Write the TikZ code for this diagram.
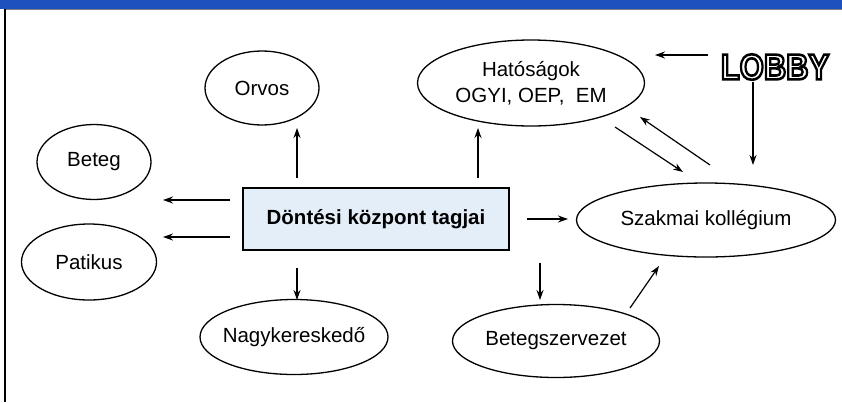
\documentclass[tikz,border=0pt]{standalone}
\usepackage{fontspec}
\setmainfont{Liberation Sans}
\usetikzlibrary{shapes.geometric,arrows.meta}
\definecolor{barblue}{RGB}{30,80,190}
\definecolor{boxblue}{RGB}{228,238,248}
\newcommand{\zb}[1]{\makebox[0pt]{#1}}
\tikzset{
  oval/.style={ellipse,draw,line width=1.3pt,inner sep=0pt,font=\fontsize{20.5}{26}\selectfont,align=center},
  arr/.style={line width=1.2pt,-{Stealth[length=10pt,width=7pt]}},
}
\begin{document}
\begin{tikzpicture}[x=1pt,y=-1pt]
\useasboundingbox (0,0) rectangle (842,402);
\fill[white] (0,0) rectangle (842,402);
\fill[barblue] (0,0) rectangle (842,8.5);
\draw[line width=1pt,gray] (4,9.5) -- (842,9.5);
\draw[line width=2pt] (5,9) -- (5,402);

\node[oval,minimum width=114pt,minimum height=74pt] (orvos) at (262,88) {\zb{Orvos}};
\node[oval,minimum width=227pt,minimum height=86pt] (hat) at (531,83) {\zb{Hatóságok}\\\zb{OGYI, OEP,\ \ EM}};
\node[oval,minimum width=114pt,minimum height=75pt] (beteg) at (94,162) {\zb{Beteg}};
\node[oval,minimum width=135pt,minimum height=76pt] (patikus) at (89,262) {\zb{Patikus}};
\node[oval,minimum width=259pt,minimum height=74pt] (szak) at (706,220) {\zb{Szakmai kollégium}};
\node[oval,minimum width=188pt,minimum height=75pt] (nagy) at (294,337) {\zb{Nagykereskedő}};
\node[oval,minimum width=207pt,minimum height=73pt] (bsz) at (556,341) {\zb{Betegszervezet}};
\node[draw,line width=1.3pt,fill=boxblue,minimum width=266pt,minimum height=62pt,font=\bfseries\fontsize{20.5}{24}\selectfont] (box) at (376,219) {Döntési központ tagjai};
\node[inner sep=0pt,font=\bfseries\fontsize{36}{40}\selectfont] (lobby) at (775,67)
  {\special{pdf:literal direct 2 Tr 2.6 w 1 g 0 G}\scalebox{0.86}[1]{LOBBY}\special{pdf:literal direct 0 Tr 0 g}};

\coordinate (b1) at (230,200); \coordinate (b1e) at (163,200);
\coordinate (b2) at (230,237); \coordinate (b2e) at (163,237);
\draw[arr] (b1) -- (b1e);
\draw[arr] (b2) -- (b2e);
\draw[arr] (297,178) -- (297,128);
\draw[arr] (478,178) -- (478,128);
\draw[arr] (297,268) -- (297,300);
\draw[arr] (540,263) -- (540,300);
\draw[arr] (527,219) -- (568,219);
\draw[arr] (630,308) -- (659,266);
\draw[arr] (708,55) -- (655,55);
\draw[arr] (753,82) -- (753,165);
\draw[arr] (615,127) -- (683,172);
\draw[arr] (710,165) -- (640,117);
\end{tikzpicture}
\end{document}
